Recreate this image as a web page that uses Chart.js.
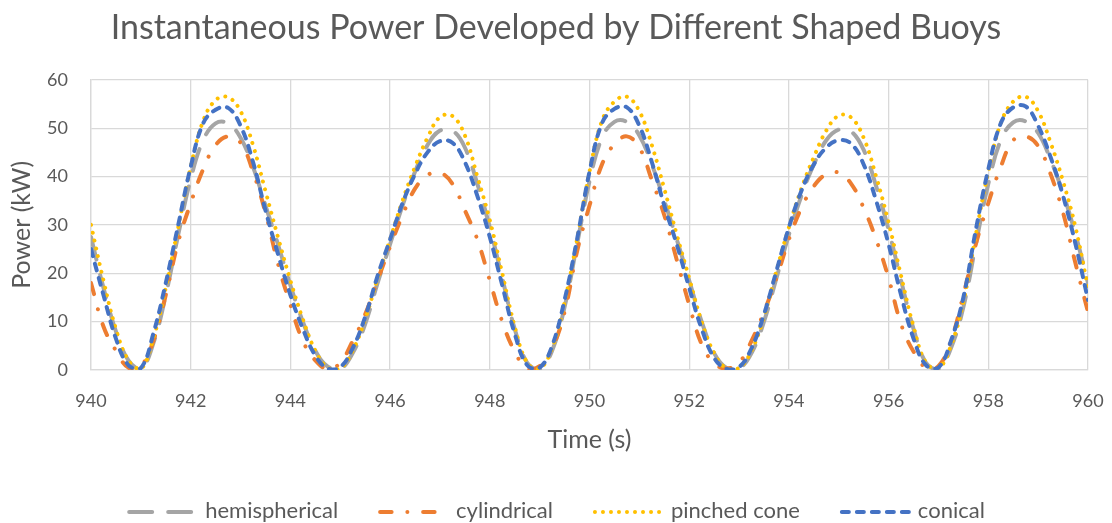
<!DOCTYPE html>
<html>
<head>
<meta charset="utf-8">
<title>Instantaneous Power Developed by Different Shaped Buoys</title>
<script src="https://cdn.jsdelivr.net/npm/chart.js@4.4.0/dist/chart.umd.min.js"></script>
<style>
    html, body { margin: 0; padding: 0; background: #ffffff; }
    #wrap { width: 1112px; height: 523px; }
</style>
</head>
<body>
<div id="wrap"><canvas id="powerChart" width="1112" height="523"></canvas></div>
<script>
// Zeitachse (s), Abtastung alle 0,25 s
const times = [
    940, 940.25, 940.5, 940.75, 941, 941.25, 941.5, 941.75, 942, 942.25,
    942.5, 942.75, 943, 943.25, 943.5, 943.75, 944, 944.25, 944.5, 944.75,
    945, 945.25, 945.5, 945.75, 946, 946.25, 946.5, 946.75, 947, 947.25,
    947.5, 947.75, 948, 948.25, 948.5, 948.75, 949, 949.25, 949.5, 949.75,
    950, 950.25, 950.5, 950.75, 951, 951.25, 951.5, 951.75, 952, 952.25,
    952.5, 952.75, 953, 953.25, 953.5, 953.75, 954, 954.25, 954.5, 954.75,
    955, 955.25, 955.5, 955.75, 956, 956.25, 956.5, 956.75, 957, 957.25,
    957.5, 957.75, 958, 958.25, 958.5, 958.75, 959, 959.25, 959.5, 959.75,
    960
];

// Leistung (kW) je Bojenform
const hemispherical = [
    27.5, 17, 8, 2, 0.2, 5.5, 15.5, 28, 39.5, 47.5,
    51, 51, 48, 42, 34, 26, 17.5, 10, 4, 0.7,
    0.2, 3.5, 9.5, 18, 26, 34, 41, 46.5, 49.5, 49.5,
    46, 38.5, 29.5, 19, 8.5, 1.5, 0.2, 4, 13, 26,
    39, 48, 51.3, 51.3, 48.5, 42.5, 35, 27, 18.5, 10,
    3.5, 0.4, 0.3, 3.5, 10, 19, 28, 36, 42.5, 47.5,
    49.7, 49.3, 45.5, 38, 29, 18.5, 8.5, 1.5, 0.2, 4.5,
    13, 26, 38.5, 47.5, 51.2, 51.4, 49, 43.5, 36.5, 28,
    18
];

const cylindrical = [
    18, 9, 4, 0.5, 0.8, 6, 15.5, 26.5, 34.5, 41.5,
    46.5, 48.3, 47, 41, 32.5, 22, 13.5, 6, 2, 0.2,
    1.5, 6, 11.5, 18.6, 25.5, 32, 37.5, 40.3, 40.8, 38.5,
    33, 27, 18.5, 10, 3.8, 0.3, 0.8, 4.5, 12, 24.5,
    34, 42.5, 46.7, 48.3, 46, 39.3, 32, 22.8, 13.5, 5.3,
    1.4, 0.3, 1.5, 6, 12, 19, 27, 33.5, 38, 40.5,
    40.8, 38.5, 33.5, 27, 19, 9.5, 3.8, 0.5, 0.8, 6,
    15.5, 26, 34.5, 42, 47.5, 48.3, 46.3, 40.5, 32.5, 22,
    12
];

const pinchedCone = [
    30, 18.5, 8.5, 2, 0.2, 6.5, 17, 29.5, 42, 51.5,
    55.8, 56.4, 53.5, 46.5, 37, 27.5, 18.5, 10.5, 4, 0.5,
    0.3, 4, 10.5, 19, 27, 35, 42, 48, 52.3, 52.5,
    48.5, 40, 31, 20, 9, 1.5, 0.3, 4.5, 14, 27,
    41, 51.5, 55.5, 56.5, 53.5, 46.5, 37.5, 28, 19, 10,
    3.5, 0.3, 0.4, 4, 11, 20.5, 29.5, 37.5, 44, 49.5,
    52.6, 52.2, 48, 40, 30.5, 19.5, 9, 1.5, 0.3, 5,
    14, 28, 41, 51, 55.5, 56.5, 53.5, 47, 39, 29.5,
    17
];

const conical = [
    25, 15.5, 6.5, 1, 0.4, 7.5, 18, 30, 42, 51,
    53.8, 54.2, 50.5, 43, 33, 24, 15.5, 8.5, 3, 0.3,
    0.6, 4.5, 11, 19.5, 27, 34.5, 40.5, 45, 47.3, 47,
    43, 36, 27.5, 17.5, 7.5, 1, 0.5, 5, 14.5, 27,
    41, 51, 54, 54.3, 50.5, 43, 34, 26, 17, 8.5,
    2.5, 0.2, 0.6, 4.5, 11.5, 20.5, 29.5, 37, 42.5, 46,
    47.5, 46.8, 42.5, 35, 26, 15.5, 6.5, 1, 0.5, 6,
    15, 29, 41.5, 51, 54.3, 54.5, 50.5, 44, 36, 26,
    14.5
];

const FONT = 'Lato, "Open Sans", sans-serif';
const TEXT_GREY = '#595959';
const GRID_GREY = '#D9D9D9';

/**
 * Baut einen Linien-Datensatz im Stil der Excel-Vorlage
 */
function makeSeries(label, values, color, dash, order) {
    return {
        label: label,
        data: times.map((t, i) => ({ x: t, y: values[i] })),
        borderColor: color,
        backgroundColor: color,
        borderWidth: 4,
        borderDash: dash,
        borderCapStyle: 'round',
        borderJoinStyle: 'round',
        pointRadius: 0,
        pointHoverRadius: 0,
        tension: 0.4,
        fill: false,
        order: order
    };
}

// Eigene Legende unten: Linienmuster + Text, damit die Strichelung sichtbar bleibt
const lineLegend = {
    id: 'lineLegend',
    afterDraw(chart, args, opts) {
        const c = chart.ctx;
        c.save();
        c.font = `${opts.fontSize}px ${FONT}`;
        const items = chart.data.datasets.map(ds => ({
            ds: ds,
            w: opts.sampleWidth + opts.textGap + c.measureText(ds.label).width
        }));
        const total = items.reduce((s, it) => s + it.w, 0) + opts.itemGap * (items.length - 1);
        let x = (chart.width - total) / 2;
        const y = opts.y;

        items.forEach(it => {
            c.strokeStyle = it.ds.borderColor;
            c.lineWidth = it.ds.borderWidth;
            c.lineCap = it.ds.borderCapStyle;
            c.setLineDash(it.ds.borderDash);
            c.beginPath();
            c.moveTo(x + 2, y + 1);
            c.lineTo(x + opts.sampleWidth - 2, y + 1);
            c.stroke();

            c.setLineDash([]);
            c.fillStyle = TEXT_GREY;
            c.textAlign = 'left';
            c.textBaseline = 'middle';
            c.fillText(it.ds.label, x + opts.sampleWidth + opts.textGap, y);
            x += it.w + opts.itemGap;
        });
        c.restore();
    }
};

const ctx = document.getElementById('powerChart').getContext('2d');

new Chart(ctx, {
    type: 'line',
    data: {
        datasets: [
            makeSeries('hemispherical', hemispherical, '#A5A5A5', [23, 16], 4),
            makeSeries('cylindrical', cylindrical, '#ED7D31', [11.5, 15.75, 0.01, 15.75], 3),
            makeSeries('pinched cone', pinchedCone, '#FFC000', [0.01, 8], 2),
            makeSeries('conical', conical, '#4472C4', [7, 8], 1)
        ]
    },
    plugins: [lineLegend],
    options: {
        responsive: false,
        animation: false,
        devicePixelRatio: 1,
        layout: {
            padding: { left: 0, right: 0, top: 0, bottom: 61 }
        },
        plugins: {
            title: {
                display: true,
                text: 'Instantaneous Power Developed by Different Shaped Buoys',
                color: TEXT_GREY,
                font: { family: FONT, size: 34, weight: 'normal' },
                padding: { top: 8, bottom: 31 }
            },
            legend: { display: false },
            lineLegend: {
                y: 511,
                fontSize: 22,
                sampleWidth: 72,
                textGap: 6,
                itemGap: 40
            },
            tooltip: { enabled: false }
        },
        scales: {
            x: {
                type: 'linear',
                min: 940,
                max: 960,
                afterFit: (scale) => {
                    // feste Höhe und rechter Rand, damit die Plotfläche bei 91..1088 px liegt
                    scale.height = 92;
                    scale.paddingLeft = 0;
                    scale.paddingRight = 24;
                },
                ticks: {
                    stepSize: 2,
                    color: TEXT_GREY,
                    font: { family: FONT, size: 18 },
                    padding: 20,
                    maxRotation: 0
                },
                grid: { color: GRID_GREY, lineWidth: 1.3, drawTicks: false },
                border: { color: GRID_GREY, width: 1.3 },
                title: {
                    display: true,
                    text: 'Time (s)',
                    color: TEXT_GREY,
                    font: { family: FONT, size: 25 },
                    padding: { top: 0, bottom: 7 }
                }
            },
            y: {
                min: 0,
                max: 60,
                afterFit: (scale) => { scale.width = 91; },
                ticks: {
                    stepSize: 10,
                    color: TEXT_GREY,
                    font: { family: FONT, size: 18 },
                    padding: 23
                },
                grid: { color: GRID_GREY, lineWidth: 1.3, drawTicks: false },
                border: { color: GRID_GREY, width: 1.3 },
                title: {
                    display: true,
                    text: 'Power (kW)',
                    color: TEXT_GREY,
                    font: { family: FONT, size: 25 },
                    padding: { top: 7, bottom: 0 }
                }
            }
        }
    }
});
</script>
</body>
</html>
